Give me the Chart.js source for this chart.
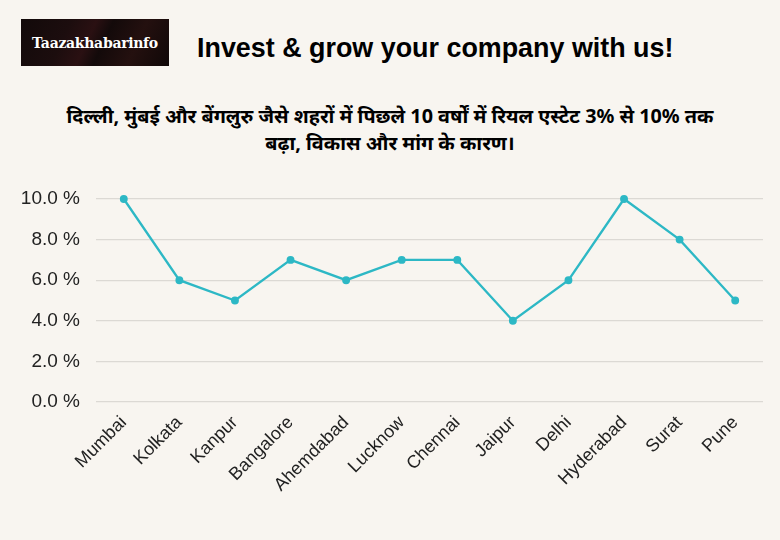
<!DOCTYPE html>
<html><head><meta charset="utf-8">
<script src="https://cdn.jsdelivr.net/npm/chart.js@4"></script>
<style>
html,body{margin:0;padding:0;background:#f8f5f0;width:780px;height:540px;overflow:hidden;position:relative;font-family:"Liberation Sans",Arial,sans-serif;}
#logo{position:absolute;left:21px;top:19px;width:148px;height:47px;background:linear-gradient(115deg,#120a0a 0%,#1c0d0e 30%,#2a1012 45%,#130a0a 55%,#24100f 75%,#100808 100%);color:#fff;font-family:"DejaVu Serif","Liberation Serif",serif;font-weight:bold;font-size:14px;display:flex;align-items:center;justify-content:center;letter-spacing:-0.3px;}
#title{position:absolute;left:197px;top:32px;font-weight:bold;font-size:28px;line-height:32px;color:#000;white-space:nowrap;transform:scaleX(0.96);transform-origin:left top;}
#sub{position:absolute;left:0;width:780px;top:102px;text-align:center;font-family:"Noto Sans",sans-serif;font-weight:bold;font-size:19.8px;line-height:27px;color:#000;}
#wrap{position:absolute;left:0;top:180px;width:780px;height:360px;}
</style></head><body>
<div id="logo">Taazakhabarinfo</div>
<div id="title">Invest &amp; grow your company with us!</div>
<div id="sub">दिल्ली, मुंबई और बेंगलुरु जैसे शहरों में पिछले 10 वर्षों में रियल एस्टेट 3% से 10% तक<br>बढ़ा, विकास और मांग के कारण।</div>
<div id="wrap"><canvas id="c"></canvas></div>
<script>
const cities = ["Mumbai","Kolkata","Kanpur","Bangalore","Ahemdabad","Lucknow","Chennai","Jaipur","Delhi","Hyderabad","Surat","Pune"];
const growth = [10,6,5,7,6,7,7,4,6,10,8,5];
const yTicks = [0,2,4,6,8,10];

new Chart(document.getElementById('c'),{
  type:'line',
  data:{labels:cities,datasets:[{data:growth,borderColor:'#2db8c5',backgroundColor:'#2db8c5',borderWidth:2.3,pointRadius:2.8,pointHoverRadius:3,tension:0,clip:false}]},
  options:{
    responsive:true,maintainAspectRatio:false,animation:false,
    layout:{padding:{top:19,right:17,bottom:0,left:0}},
    plugins:{legend:{display:false},tooltip:{enabled:false}},
    scales:{
      x:{offset:true,grid:{display:false,drawTicks:false},border:{display:false},
        ticks:{autoSkip:false,maxRotation:45,minRotation:45,color:'#222',font:{family:'"Liberation Sans",Arial,sans-serif',size:18},padding:10},
        afterFit:(s)=>{s.height=138;}},
      y:{min:0,max:10,afterBuildTicks:(s)=>{s.ticks=yTicks.map(v=>({value:v}));},
        grid:{color:'#dcd9d4',lineWidth:1.2,drawTicks:true,tickLength:16,tickColor:'rgba(0,0,0,0)'},border:{display:false},
        ticks:{color:'#222',font:{family:'"Liberation Sans",Arial,sans-serif',size:19},padding:0,callback:(v)=>v.toFixed(1)+' %'},
        afterFit:(s)=>{s.width=96;}}
    }
  }
});
</script>
</body></html>
